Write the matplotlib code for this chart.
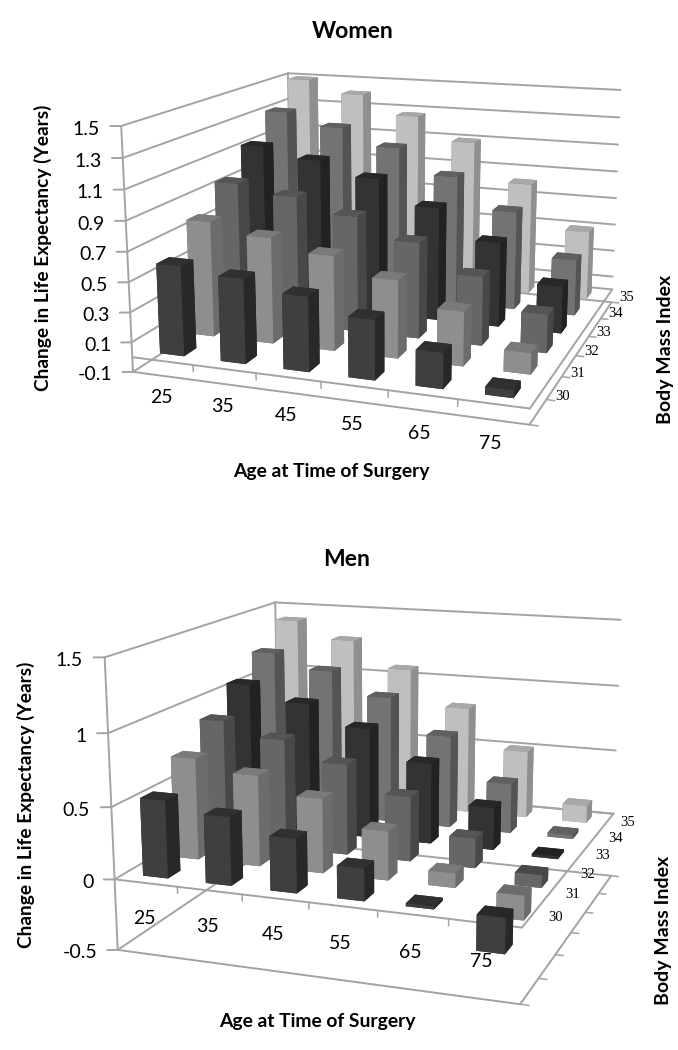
import numpy as np
import matplotlib
matplotlib.use("Agg")
import matplotlib.pyplot as plt
from mpl_toolkits.mplot3d import proj3d

ages = ["25", "35", "45", "55", "65", "75"]
bmis = ["30", "31", "32", "33", "34", "35"]

women_bmi30 = [0.60, 0.56, 0.49, 0.39, 0.23, 0.05]
women_bmi31 = [0.79, 0.72, 0.64, 0.52, 0.36, 0.14]
women_bmi32 = [0.96, 0.90, 0.80, 0.66, 0.47, 0.26]
women_bmi33 = [1.14, 1.07, 0.97, 0.80, 0.59, 0.33]
women_bmi34 = [1.32, 1.23, 1.11, 0.93, 0.71, 0.40]
women_bmi35 = [1.50, 1.41, 1.27, 1.10, 0.82, 0.50]

men_bmi30 = [0.54, 0.47, 0.37, 0.22, 0.02, -0.24]
men_bmi31 = [0.72, 0.64, 0.52, 0.34, 0.10, -0.17]
men_bmi32 = [0.89, 0.79, 0.65, 0.46, 0.21, -0.09]
men_bmi33 = [1.07, 0.96, 0.81, 0.59, 0.31, -0.02]
men_bmi34 = [1.23, 1.12, 0.95, 0.69, 0.37, 0.03]
men_bmi35 = [1.41, 1.28, 1.08, 0.81, 0.51, 0.13]

women_ticks = [-0.1, 0.1, 0.3, 0.5, 0.7, 0.9, 1.1, 1.3, 1.5]
men_ticks = [-0.5, 0, 0.5, 1, 1.5]

# front, side, top shade for each BMI row
front_cols = ["#3f3f3f", "#8e8e8e", "#666666", "#333333", "#737373", "#bfbfbf"]
side_cols = ["#282828", "#6c6c6c", "#484848", "#222222", "#545454", "#8f8f8f"]
top_cols = ["#303030", "#7a7a7a", "#555555", "#282828", "#606060", "#a8a8a8"]

W, H = 678, 1050
BAR = 0.40
GRID = "#a3a3a3"

plt.rcParams["font.family"] = ["Lato", "DejaVu Sans"]
fig = plt.figure(figsize=(W / 100, H / 100), dpi=100, facecolor="white")


def draw_chart(rows, ticks, cam, aspect, age_z, bmi_z):
    el, az, ro, f, cx, cy, s = cam
    ax = fig.add_axes([(cx - s * 0.095) / W, 1 - (cy + s * 0.095) / H, s * 0.185 / W, s * 0.185 / H],
                      projection="3d", computed_zorder=False)
    zmin, zmax = ticks[0], ticks[-1]
    ax.set_xlim(0, 6)
    ax.set_ylim(0, 6)
    ax.set_zlim(zmin, zmax)
    ax.view_init(elev=el, azim=az, roll=ro)
    ax.set_proj_type("persp", focal_length=f)
    ax.set_box_aspect(aspect)
    ax.set_axis_off()
    ax.patch.set_alpha(0)
    M = ax.get_proj()

    def line(a, b, lw=1.4):
        ax.plot([a[0], b[0]], [a[1], b[1]], [a[2], b[2]], color=GRID, lw=lw, zorder=1,
                solid_capstyle="round")

    def put(x, y, z, txt, **kw):
        xp, yp, _ = proj3d.proj_transform(x, y, z, M)
        ax.text2D(xp, yp, txt, transform=ax.transData, ha="center", va="center", zorder=1000, **kw)

    # walls
    for z in ticks:
        line((0, 0, z), (0, 6, z))
        line((0, 6, z), (6, 6, z))
        line((-0.14, -0.06, z), (0, 0, z))
        xp, yp, _ = proj3d.proj_transform(-0.28, -0.11, z - 0.02, M)
        ax.text2D(xp, yp, f"{z:g}", transform=ax.transData, ha="right", va="center", fontsize=14, zorder=1000)
    line((0, 0, zmin), (0, 0, zmax))
    line((0, 6, zmin), (0, 6, zmax))
    # floor and axes
    for z in (zmin, 0):
        line((0, 0, z), (6, 0, z))
        line((6, 0, z), (6, 6, z))
    line((0, 6, 0), (6, 6, 0))
    for i in range(1, 6):
        line((i, 0, 0), (i, 0, -0.045), lw=1.1)
    for i in range(0, 7):
        line((6, i, zmin), (6.12, i, zmin), lw=1.1)

    for i, lab in enumerate(ages):
        put(i + 0.46, 0, age_z, lab, fontsize=14)
    for i, lab in enumerate(bmis):
        put(6.33, i + 0.5, bmi_z, lab, fontsize=10.5, family=["Liberation Serif"])

    # back rows first, then left to right
    off = (1 - BAR) / 2
    order = 10
    for j in range(5, -1, -1):
        for i in range(6):
            cols = [side_cols[j], top_cols[j], front_cols[j], side_cols[j], side_cols[j], side_cols[j]]
            ax.bar3d(i + off, j + off, 0, BAR, BAR, rows[j][i], color=cols, shade=False, zorder=order)
            order += 1
    return ax


women = [women_bmi30, women_bmi31, women_bmi32, women_bmi33, women_bmi34, women_bmi35]
men = [men_bmi30, men_bmi31, men_bmi32, men_bmi33, men_bmi34, men_bmi35]

draw_chart(women, women_ticks, (14.014, -70.361, -0.022, 0.4473, 390.70, 222.83, 3058.21),
           (1, 0.9679, 0.6124), -0.25, 0.015)
draw_chart(men, men_ticks, (14.222, -70.175, 0.021, 0.4794, 381.54, 776.76, 3249.76),
           (1, 0.9767, 0.7135), -0.25, 0.01)


def label(x, y, txt, size, rot=0):
    fig.text(x / W, 1 - y / H, txt, ha="center", va="center", fontsize=size, fontweight="bold",
             rotation=rot)


label(353, 31, "Women", 16.6)
label(347, 560, "Men", 16.6)
label(43, 248, "Change in Life Expectancy (Years)", 13.8, 90)
label(26, 805, "Change in Life Expectancy (Years)", 13.8, 90)
label(331, 472, "Age at Time of Surgery", 13.9)
label(317, 1021, "Age at Time of Surgery", 13.9)
label(666, 349, "Body Mass Index", 14, 90)
label(664, 930, "Body Mass Index", 14, 90)

fig.savefig("out.png", dpi=100)
